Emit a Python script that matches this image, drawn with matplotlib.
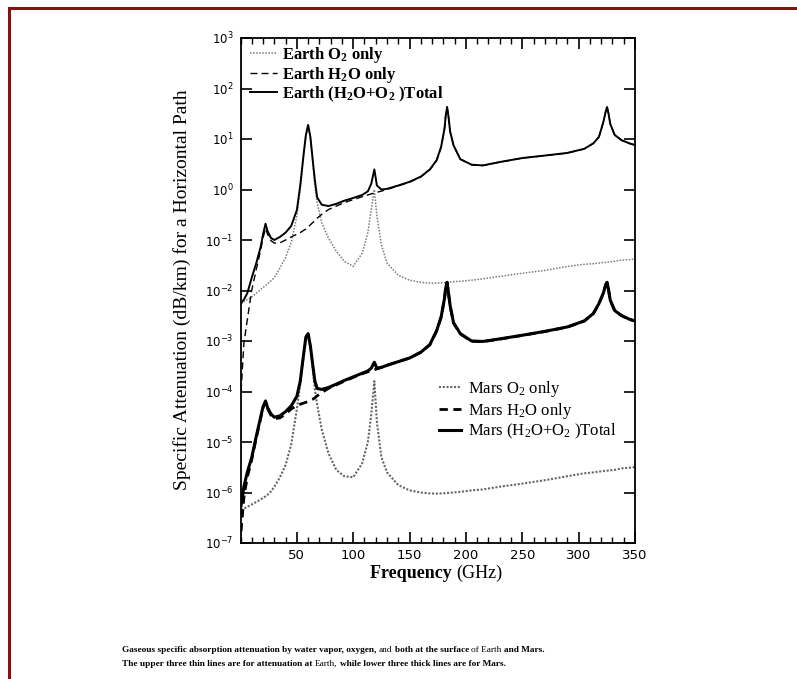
import math
import matplotlib
matplotlib.use("Agg")
import matplotlib.pyplot as plt
from matplotlib.lines import Line2D
from matplotlib.ticker import FixedLocator, MultipleLocator, NullLocator, FuncFormatter, NullFormatter
from matplotlib.transforms import IdentityTransform

plt.rcParams['mathtext.fontset'] = 'custom'
plt.rcParams['mathtext.rm'] = 'Liberation Serif'
plt.rcParams['mathtext.bf'] = 'Liberation Serif:bold'
plt.rcParams['mathtext.it'] = 'Liberation Serif:italic'
plt.rcParams['mathtext.sf'] = 'DejaVu Sans'

# ---------------- data ----------------
freq_ghz = [0.5, 3, 6, 10, 14, 18, 20, 22.2, 24, 27,
            30, 35, 40, 45, 50, 53, 56, 58, 60, 62,
            64, 66, 68, 72, 78, 85, 92, 100, 108, 113,
            116, 118.75, 121, 125, 130, 140, 150, 160, 168, 174,
            178, 181, 182, 183.3, 184.5, 186, 189, 195, 205, 215,
            230, 250, 270, 290, 305, 313, 318, 322, 324, 325.2,
            326.5, 328, 332, 338, 345, 350]

earth_total = [5.6e-3, 6.6e-3, 8.8e-3, 0.018, 0.035, 0.075, 0.13, 0.21, 0.15, 0.11,
               0.10, 0.115, 0.14, 0.19, 0.39, 1.2, 5.0, 12, 19, 11,
               4.0, 1.5, 0.7, 0.5, 0.47, 0.52, 0.6, 0.68, 0.78, 0.92,
               1.3, 2.5, 1.2, 1.0, 1.03, 1.2, 1.42, 1.8, 2.5, 3.8,
               7, 16, 28, 43, 28, 14, 7.5, 4.0, 3.1, 3.0,
               3.5, 4.2, 4.7, 5.3, 6.4, 8.2, 11, 22, 35, 43,
               32, 20, 12, 9.5, 8.2, 7.6]

earth_o2 = [5.5e-3, 6.0e-3, 6.6e-3, 7.5e-3, 8.8e-3, 0.0105, 0.0115, 0.0125, 0.0135, 0.0155,
            0.018, 0.028, 0.045, 0.09, 0.3, 1.0, 4.6, 11.5, 18, 10.5,
            3.7, 1.2, 0.55, 0.22, 0.11, 0.06, 0.038, 0.03, 0.055, 0.14,
            0.4, 1.0, 0.3, 0.08, 0.035, 0.02, 0.016, 0.0145, 0.014, 0.014,
            0.0142, 0.0144, 0.0144, 0.0145, 0.0146, 0.0147, 0.015, 0.0152, 0.016, 0.017,
            0.019, 0.022, 0.025, 0.03, 0.033, 0.034, 0.035, 0.036, 0.036, 0.036,
            0.0365, 0.037, 0.038, 0.04, 0.041, 0.042]

earth_h2o = [1.0e-4, 9e-4, 2.6e-3, 0.0102, 0.026, 0.065, 0.11, 0.17, 0.13, 0.097,
             0.087, 0.088, 0.1, 0.115, 0.13, 0.14, 0.155, 0.165, 0.18, 0.2,
             0.22, 0.24, 0.27, 0.32, 0.4, 0.47, 0.55, 0.63, 0.72, 0.78,
             0.82, 0.85, 0.88, 0.93, 1.0, 1.18, 1.4, 1.78, 2.45, 3.75,
             6.9, 16, 28, 43, 28, 14, 7.4, 3.95, 3.08, 2.98,
             3.48, 4.18, 4.68, 5.27, 6.37, 8.17, 11, 22, 35, 43,
             32, 20, 12, 9.46, 8.16, 7.56]

mars_total = [5.5e-7, 1.3e-6, 2.5e-6, 5e-6, 1.3e-5, 3.2e-5, 5e-5, 6.5e-5, 4.8e-5, 3.6e-5,
              3.1e-5, 3.3e-5, 4.0e-5, 5.2e-5, 8e-5, 1.6e-4, 5.5e-4, 1.2e-3, 1.4e-3, 8e-4,
              3.5e-4, 1.6e-4, 1.15e-4, 1.1e-4, 1.2e-4, 1.4e-4, 1.65e-4, 1.95e-4, 2.3e-4, 2.55e-4,
              2.9e-4, 3.8e-4, 2.9e-4, 3.0e-4, 3.3e-4, 3.9e-4, 4.6e-4, 6.0e-4, 8.5e-4, 1.6e-3,
              3.0e-3, 7e-3, 1.1e-2, 1.45e-2, 9e-3, 5e-3, 2.3e-3, 1.4e-3, 1.0e-3, 9.8e-4,
              1.1e-3, 1.3e-3, 1.55e-3, 1.9e-3, 2.5e-3, 3.5e-3, 5.5e-3, 9e-3, 1.3e-2, 1.45e-2,
              1.05e-2, 6.5e-3, 4e-3, 3.2e-3, 2.7e-3, 2.5e-3]

mars_o2 = [4.5e-7, 4.8e-7, 5.2e-7, 5.8e-7, 6.5e-7, 7.3e-7, 7.8e-7, 8.4e-7, 9e-7, 1.05e-6,
           1.3e-6, 2.0e-6, 3.5e-6, 9e-6, 4.5e-5, 1.4e-4, 5e-4, 1.1e-3, 1.3e-3, 7.5e-4,
           3e-4, 1.1e-4, 5.5e-5, 1.8e-5, 6e-6, 2.8e-6, 2.1e-6, 2.0e-6, 3.8e-6, 1e-5,
           3.5e-5, 1.6e-4, 2.5e-5, 5e-6, 2.5e-6, 1.4e-6, 1.1e-6, 1.0e-6, 9.6e-7, 9.5e-7,
           9.6e-7, 9.7e-7, 9.7e-7, 9.8e-7, 9.8e-7, 9.9e-7, 1.0e-6, 1.03e-6, 1.1e-6, 1.15e-6,
           1.3e-6, 1.5e-6, 1.75e-6, 2.1e-6, 2.4e-6, 2.5e-6, 2.6e-6, 2.65e-6, 2.7e-6, 2.7e-6,
           2.72e-6, 2.75e-6, 2.8e-6, 3.0e-6, 3.1e-6, 3.2e-6]

mars_h2o = [1.7e-7, 8e-7, 2e-6, 4.5e-6, 1.2e-5, 3e-5, 4.8e-5, 6.2e-5, 4.6e-5, 3.4e-5,
            2.9e-5, 3.0e-5, 3.6e-5, 4.5e-5, 5.3e-5, 5.6e-5, 5.9e-5, 6.1e-5, 6.4e-5, 6.7e-5,
            7.0e-5, 7.5e-5, 8.2e-5, 9.5e-5, 1.15e-4, 1.35e-4, 1.6e-4, 1.9e-4, 2.25e-4, 2.45e-4,
            2.6e-4, 2.7e-4, 2.8e-4, 3.0e-4, 3.3e-4, 3.9e-4, 4.6e-4, 6.0e-4, 8.4e-4, 1.58e-3,
            2.95e-3, 6.9e-3, 1.09e-2, 1.44e-2, 8.9e-3, 4.9e-3, 2.28e-3, 1.38e-3, 9.9e-4, 9.7e-4,
            1.09e-3, 1.29e-3, 1.54e-3, 1.88e-3, 2.48e-3, 3.47e-3, 5.45e-3, 8.9e-3, 1.29e-2, 1.44e-2,
            1.04e-2, 6.4e-3, 3.96e-3, 3.17e-3, 2.67e-3, 2.48e-3]

x_ticks = [50, 100, 150, 200, 250, 300, 350]
y_exponents = [-7, -6, -5, -4, -3, -2, -1, 0, 1, 2, 3]

earth_labels = [r"Earth O$_\mathbf{2}$ only", r"Earth H$_\mathbf{2}$O only",
                r"Earth (H$_\mathbf{2}$O+O$_\mathbf{2}$ )Total"]
mars_labels = [r"Mars O$_2$ only", r"Mars H$_2$O only", r"Mars (H$_2$O+O$_2$ )Total"]

# ---------------- figure ----------------
W, H = 797, 679
fig = plt.figure(figsize=(W / 100, H / 100), dpi=100)
fig.patch.set_facecolor('white')

x0, x1, ytop, ybot = 240.5, 635.0, 38.0, 543.0
ax = fig.add_axes([x0 / W, 1 - ybot / H, (x1 - x0) / W, (ybot - ytop) / H])

grey_e = '#7a7a7a'
grey_m = '#666666'

l_eo, = ax.plot(freq_ghz, earth_o2, color=grey_e, lw=1.1, ls=(0, (1, 1)))
l_ew, = ax.plot(freq_ghz, earth_h2o, color='black', lw=1.0, ls=(0, (5, 3)))
l_et, = ax.plot(freq_ghz, earth_total, color='black', lw=1.4)

l_mo, = ax.plot(freq_ghz, mars_o2, color=grey_m, lw=1.5, ls=(0, (1, 0.8)))
l_mt, = ax.plot(freq_ghz, mars_total, color='black', lw=2.2)
l_mw, = ax.plot(freq_ghz, mars_h2o, color='black', lw=2.0, ls=(0, (3, 2)))

ax.set_yscale('log')
ax.set_xlim(0, 350)
ax.set_ylim(1e-7, 1e3)

ax.xaxis.set_major_locator(FixedLocator(x_ticks))
ax.xaxis.set_minor_locator(MultipleLocator(10))
ax.yaxis.set_major_locator(FixedLocator([10.0 ** e for e in y_exponents]))
ax.yaxis.set_minor_locator(NullLocator())
ax.yaxis.set_minor_formatter(NullFormatter())
ax.yaxis.set_major_formatter(FuncFormatter(
    lambda v, p: r"$\mathsf{10^{%d}}$" % int(round(math.log10(v)))))

ax.tick_params(axis='both', which='major', direction='in', length=8, width=1.2,
               top=True, right=True, colors='black')
ax.tick_params(axis='y', which='major', labelsize=8.5, pad=5)
ax.tick_params(axis='x', which='major', labelsize=9.5, pad=4)
ax.tick_params(axis='x', which='minor', direction='in', length=4, width=1.0, top=True)
for lab in ax.get_xticklabels():
    lab.set_family('DejaVu Sans')

for s in ax.spines.values():
    s.set_linewidth(1.3)

# legends
serif = 'Liberation Serif'
leg1 = ax.legend([l_eo, l_ew, l_et], earth_labels, loc='upper left',
                 bbox_to_anchor=(0.024, 0.987), frameon=False, borderpad=0,
                 borderaxespad=0, handlelength=1.6, handletextpad=0.35,
                 labelspacing=0.0,
                 prop={'family': serif, 'weight': 'bold', 'size': 12})
ax.add_artist(leg1)
leg2 = ax.legend([l_mo, l_mw, l_mt], mars_labels, loc='upper left',
                 bbox_to_anchor=(0.502, 0.325), frameon=False, borderpad=0,
                 borderaxespad=0, handlelength=1.35, handletextpad=0.4,
                 labelspacing=0.1,
                 prop={'family': serif, 'size': 12})

# axis labels
fig.text(182 / W, 1 - 290 / H, "Specific Attenuation (dB/km) for a Horizontal Path",
         rotation=90, ha='center', va='center', family=serif, fontsize=14)

ident = IdentityTransform()
fig.text(456, H - 578, "Frequency ", ha='right', va='baseline', family=serif,
         fontweight='bold', fontsize=13, transform=ident)
fig.text(456, H - 578, "(GHz)", ha='left', va='baseline', family=serif,
         fontsize=13, transform=ident)

# caption with mixed weights
renderer = fig.canvas.get_renderer()


def text_width(s, bold, size):
    t = fig.text(0, 0, s, family=serif, fontweight='bold' if bold else 'normal',
                 fontsize=size, transform=ident)
    w = t.get_window_extent(renderer).width
    t.remove()
    return w


def rich_line(x, y_base, segments, size):
    space = text_width("x x", True, size) - text_width("xx", True, size)
    for i, (s, bold) in enumerate(segments):
        t = fig.text(x, y_base, s, family=serif, fontweight='bold' if bold else 'normal',
                     fontsize=size, ha='left', va='baseline', transform=ident)
        x += t.get_window_extent(renderer).width
        if i < len(segments) - 1:
            x += space


cap_size = 6.7
rich_line(122, H - 652, [("Gaseous specific absorption attenuation by water vapor, oxygen,", True),
                         ("and", False), ("both at the surface", True), ("of Earth", False),
                         ("and Mars.", True)], cap_size)
rich_line(122, H - 666, [("The upper three thin lines are for attenuation at", True),
                         ("Earth,", False),
                         ("while lower three thick lines are for Mars.", True)], cap_size)

# page frame (dark red)
red = '#8b0f0f'
fig.add_artist(Line2D([9 / W, 1.0], [1 - 8 / H, 1 - 8 / H], transform=fig.transFigure,
                      color=red, lw=2.2))
fig.add_artist(Line2D([9 / W, 9 / W], [0, 1 - 8 / H], transform=fig.transFigure,
                      color=red, lw=2.2))

fig.savefig('out.png', dpi=100)
